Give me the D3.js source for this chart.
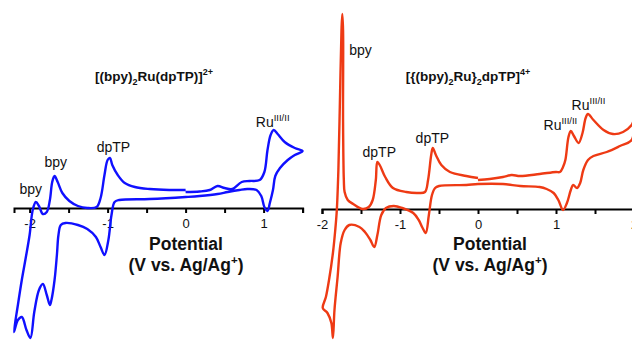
<!DOCTYPE html>
<html>
<head>
<meta charset="utf-8">
<script src="https://cdn.jsdelivr.net/npm/d3@7"></script>
<style>
  body { margin: 0; background: #fff; }
  svg { display: block; font-family: Arial, "Liberation Sans", sans-serif; }
  .axis path, .axis line { stroke: #000; stroke-width: 2; }
  .axis text { font-size: 13px; fill: #111; }
  .label { font-size: 17.5px; font-weight: bold; fill: #111; }
  .title { font-size: 13.5px; font-weight: bold; fill: #111; }
  .note { font-size: 14px; fill: #111; }
</style>
</head>
<body>
<svg id="chart" width="632" height="340"></svg>
<script>
// left panel: [(bpy)2Ru(dpTP)]2+  (potential in V, current in arbitrary units)
const leftV = [0, 0.18, 0.31, 0.41, 0.5, 0.6, 0.72, 0.82, 0.95, 1.01, 1.05, 1.09, 1.13, 1.18, 1.27, 1.40, 1.50,
  1.40, 1.31, 1.21, 1.15, 1.12, 1.08, 1.05, 1.01, 0.97, 0.91, 0.79, 0.69, 0.54, 0.41, 0.18, 0, -0.46, -0.85,
  -0.91, -0.95, -0.99, -1.04, -1.09, -1.15, -1.26, -1.38, -1.54, -1.60, -1.63, -1.65, -1.68, -1.72, -1.74,
  -1.78, -1.83, -1.88, -1.94, -1.99, -2.04, -2.10, -2.15, -2.2,
  -2.15, -2.10, -2.05, -2.0, -1.96, -1.92, -1.88, -1.83, -1.78, -1.74, -1.71, -1.68, -1.64, -1.58, -1.49,
  -1.38, -1.26, -1.14, -1.09, -1.04, -1.0, -0.97, -0.94, -0.87, -0.78, -0.65, -0.46, -0.21, 0];
const leftI = [1.6, 1.65, 1.8, 2.2, 2.0, 1.9, 2.6, 2.7, 2.8, 3.6, 5.8, 7.3, 7.8, 7.4, 6.6, 6.0, 5.7,
  5.3, 4.8, 4.0, 3.2, 1.8, 0.5, -0.3, 0.1, 1.2, 1.8, 1.9, 1.8, 1.6, 1.4, 1.2, 1.1, 0.9, 0.8,
  0.6, -0.7, -3.2, -4.7, -3.9, -2.9, -2.1, -1.7, -1.5, -1.7, -2.7, -4.7, -7.2, -9.2, -9.7,
  -8.7, -7.6, -8.2, -10.4, -13.0, -12.2, -10.9, -11.2, -12.4,
  -9.7, -7.2, -5.0, -2.7, -0.2, 0.6, 0.2, -0.6, -0.4, 0.8, 2.6, 3.2, 2.6, 1.5, 0.7,
  0.2, 0, 0.1, 1.0, 3.3, 4.8, 5.0, 4.3, 3.3, 2.5, 2.1, 1.9, 1.8, 1.8];

// right panel: [{(bpy)2Ru}2dpTP]4+
const rightV = [0, 0.15, 0.32, 0.43, 0.54, 0.79, 1.0, 1.05, 1.09, 1.12, 1.16, 1.19, 1.23, 1.29, 1.34, 1.38, 1.41,
  1.48, 1.61, 1.73, 1.86, 1.97, 2.0,
  1.97, 1.82, 1.65, 1.48, 1.41, 1.35, 1.31, 1.27, 1.22, 1.19, 1.14, 1.09, 1.03, 0.97, 0.88, 0.79, 0.54, 0.32,
  0, -0.15, -0.5, -0.55, -0.59, -0.63, -0.67, -0.71, -0.76, -0.83, -0.97, -1.08, -1.18, -1.24, -1.29, -1.33,
  -1.38, -1.45, -1.52, -1.65, -1.71, -1.76, -1.80, -1.84, -1.86, -1.88, -1.93, -1.99,
  -1.95, -1.91, -1.86, -1.83, -1.81, -1.79, -1.77, -1.75, -1.74, -1.73, -1.73, -1.72, -1.71, -1.67, -1.60,
  -1.48, -1.40, -1.35, -1.31, -1.29, -1.26, -1.19, -1.09, -0.92, -0.76, -0.68, -0.64, -0.60, -0.58, -0.54,
  -0.47, -0.36, -0.15, 0];
const rightI = [2.9, 3.0, 3.2, 3.4, 3.3, 3.5, 3.7, 3.7, 4.2, 4.9, 7.2, 7.8, 7.3, 6.6, 7.6, 9.1, 9.5,
  8.9, 7.9, 7.5, 7.7, 8.4, 8.9,
  6.9, 6.3, 5.7, 5.3, 4.9, 3.9, 2.6, 2.1, 2.4, 1.9, 0.6, -0.1, 0.9, 1.6, 2.0, 2.2, 2.3, 2.5,
  2.5, 2.4, 2.3, 2.1, 1.4, -0.6, -2.4, -1.9, -1.1, -0.4, 0.1, 0.3, 0.1, -0.6, -2.6, -3.8,
  -3.1, -2.3, -1.8, -1.6, -2.1, -3.4, -6.8, -10.1, -12.9, -11.4, -10.4, -9.9,
  -8.8, -7.1, -4.4, -2.1, -0.1, 3.9, 10.9, 17.9, 19.5, 17.9, 8.9, 2.9, 1.7, 0.9, 0.5,
  0, 0.2, 0.9, 2.9, 4.7, 4.4, 3.2, 2.1, 1.7, 1.6, 1.7, 2.9, 5.4, 6.1, 5.4,
  4.4, 3.7, 3.3, 3.1];

const leftTicks = [-2, -1.5, -1, -0.5, 0, 0.5, 1, 1.5];
const rightTicks = [-2, -1.5, -1, -0.5, 0, 0.5, 1, 1.5, 2];

const leftNotes = [
  { text: "bpy", v: -2.13, i: 1.4 },
  { text: "bpy", v: -1.81, i: 4.1 },
  { text: "dpTP", v: -1.14, i: 5.65 },
  { text: "Ru", sup: "III/II", v: 0.9, i: 8.1 }
];
const rightNotes = [
  { text: "bpy", v: -1.65, i: 15.4 },
  { text: "dpTP", v: -1.48, i: 5.25 },
  { text: "dpTP", v: -0.8, i: 6.6 },
  { text: "Ru", sup: "III/II", v: 0.84, i: 7.9 },
  { text: "Ru", sup: "III/II", v: 1.2, i: 9.9 }
];

const svg = d3.select("#chart");

const xL = d3.scaleLinear().domain([-2.2, 1.5]).range([14, 302.6]);
const yL = d3.scaleLinear().domain([-10, 10]).range([308, 108]);
const xR = d3.scaleLinear().domain([-2, 2]).range([322, 634]);
const yR = d3.scaleLinear().domain([-10, 10]).range([309, 109]);

function drawPanel(x, y, V, I, ticks, notes, color, labelX) {
  const g = svg.append("g");

  g.append("g")
    .attr("class", "axis")
    .attr("transform", `translate(0, ${y(0)})`)
    .call(d3.axisBottom(x)
      .tickValues(ticks)
      .tickSize(5)
      .tickSizeOuter(5)
      .tickPadding(5.5)
      .tickFormat(d => Number.isInteger(d) ? String(d) : ""))
    .call(a => a.selectAll("text").attr("font-family", null));

  const line = d3.line()
    .x((d, k) => x(V[k]))
    .y((d, k) => y(I[k]))
    .curve(d3.curveCatmullRom.alpha(0.5));

  g.append("path")
    .datum(V)
    .attr("d", line)
    .attr("fill", "none")
    .attr("stroke", color)
    .attr("stroke-width", 2.4)
    .attr("stroke-linejoin", "round");

  notes.forEach(n => {
    const t = g.append("text")
      .attr("class", "note")
      .attr("x", x(n.v))
      .attr("y", y(n.i));
    t.append("tspan").text(n.text);
    if (n.sup) {
      t.append("tspan").attr("dy", -6).attr("font-size", "9.5px").text(n.sup);
    }
  });

  g.append("text")
    .attr("class", "label")
    .attr("x", labelX)
    .attr("y", 250)
    .attr("text-anchor", "middle")
    .text("Potential");

  const l2 = g.append("text")
    .attr("class", "label")
    .attr("x", labelX)
    .attr("y", 271)
    .attr("text-anchor", "middle");
  l2.append("tspan").text("(V vs. Ag/Ag");
  l2.append("tspan").attr("dy", -7).attr("font-size", "11.5px").text("+");
  l2.append("tspan").attr("dy", 7).text(")");
}

drawPanel(xL, yL, leftV, leftI, leftTicks, leftNotes, "#1010ff", 186);
drawPanel(xR, yR, rightV, rightI, rightTicks, rightNotes, "#ee3a14", 490);

// titles with sub/superscripts
function title(parts, cx) {
  const t = svg.append("text")
    .attr("class", "title")
    .attr("x", cx)
    .attr("y", 81)
    .attr("text-anchor", "middle");
  parts.forEach(p => {
    const s = t.append("tspan").text(p[0]);
    if (p[1] === "sub") s.attr("dy", 4).attr("font-size", "9px");
    else if (p[1] === "sup") s.attr("dy", -6).attr("font-size", "9px");
    else if (p[1] === "back") s.attr("dy", -4);
  });
}

title([["[(bpy)"], ["2", "sub"], ["Ru(dpTP)]", "back"], ["2+", "sup"]], 154);
title([["[{(bpy)"], ["2", "sub"], ["Ru}", "back"], ["2", "sub"], ["dpTP]", "back"], ["4+", "sup"]], 468);
</script>
</body>
</html>
